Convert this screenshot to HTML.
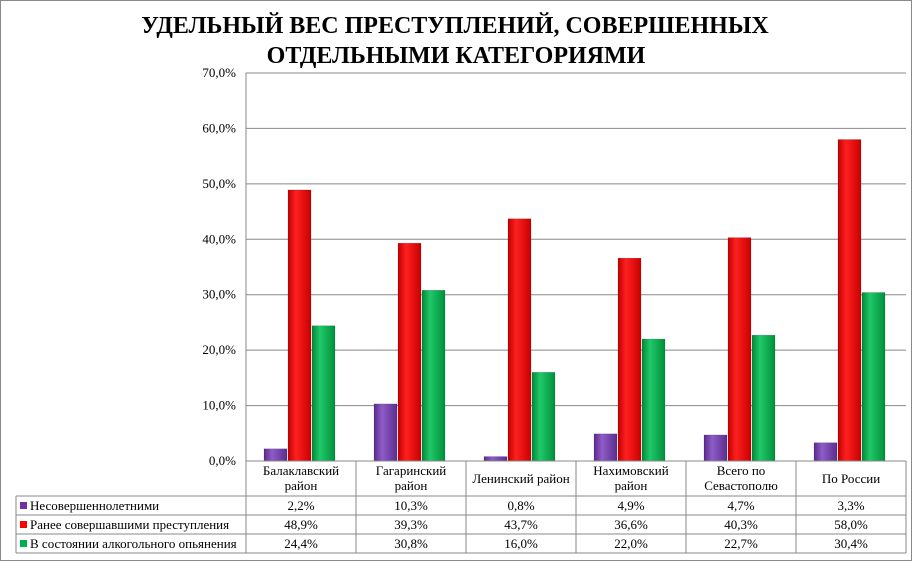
<!DOCTYPE html>
<html><head><meta charset="utf-8"><style>
body{margin:0;background:#fff}
svg{display:block;font-family:"Liberation Serif",serif}
text{font-family:"Liberation Serif",serif}
</style></head><body>
<svg id="c" width="913" height="562" viewBox="0 0 913 562">
<defs>
<linearGradient id="gp" x1="0" x2="1"><stop offset="0" stop-color="#5a2a8a"/><stop offset="0.35" stop-color="#8e5cc8"/><stop offset="1" stop-color="#5b2e8e"/></linearGradient>
<linearGradient id="gr" x1="0" x2="1"><stop offset="0" stop-color="#c00000"/><stop offset="0.35" stop-color="#ff2020"/><stop offset="1" stop-color="#c80000"/></linearGradient>
<linearGradient id="gg" x1="0" x2="1"><stop offset="0" stop-color="#008a3a"/><stop offset="0.35" stop-color="#20c868"/><stop offset="1" stop-color="#00903c"/></linearGradient>
</defs>
<rect x="0.5" y="0.5" width="911" height="560" fill="#fff" stroke="#888"/>
<text x="455" y="33" text-anchor="middle" font-size="24" font-weight="bold" font-family="Liberation Serif, serif">УДЕЛЬНЫЙ ВЕС ПРЕСТУПЛЕНИЙ, СОВЕРШЕННЫХ</text>
<text x="456" y="63" text-anchor="middle" font-size="24" font-weight="bold" font-family="Liberation Serif, serif">ОТДЕЛЬНЫМИ КАТЕГОРИЯМИ</text>
<g id="grid"></g><g id="bars"></g><g id="table"></g>
</svg>
<script>
const categories=[["Балаклавский","район"],["Гагаринский","район"],["Ленинский район"],["Нахимовский","район"],["Всего по","Севастополю"],["По России"]];
const seriesNames=["Несовершеннолетними","Ранее совершавшими преступления","В состоянии алкогольного  опьянения"];
const minors=[2.2,10.3,0.8,4.9,4.7,3.3];
const repeat=[48.9,39.3,43.7,36.6,40.3,58.0];
const alcohol=[24.4,30.8,16.0,22.0,22.7,30.4];
const ticks=[0,10,20,30,40,50,60,70];
const series=[minors,repeat,alcohol];
const fills=["url(#gp)","url(#gr)","url(#gg)"];
const solid=["#7030a0","#ff0000","#00b050"];
const NS="http://www.w3.org/2000/svg";
const L=246,R=906,T=73,B=461,maxV=70;
const cw=(R-L)/categories.length;
const y=v=>B-(v/maxV)*(B-T);
const xc=i=>L+i*cw;
function mk(tag,attrs,parent,txt){const e=document.createElementNS(NS,tag);for(const k in attrs)e.setAttribute(k,attrs[k]);if(tag==='text')e.setAttribute('font-family','Liberation Serif, serif');if(txt!==undefined)e.textContent=txt;parent.appendChild(e);return e;}
const fmt=v=>v.toFixed(1).replace('.',',')+'%';
const grid=document.getElementById('grid');
ticks.forEach(t=>{
  const l=mk('line',{x1:L,x2:R,y1:y(t),y2:y(t),stroke:'#888','stroke-width':1},grid);
  
  
  const tx=mk('text',{x:L-10,y:y(t)+4,'text-anchor':'end','font-size':13},grid,fmt(t));
  
  
});
const ax=mk('line',{x1:L,x2:L,y1:T,y2:B,stroke:'#888'},grid);


const bars=document.getElementById('bars');
const bw=24,off=18;
series.forEach((s,si)=>{
  s.forEach((v,i)=>{
    const x=xc(i)+off+si*bw;
    const r=mk('rect',{x:x,y:y(v),width:bw-1,height:B-y(v),fill:fills[si],stroke:'rgba(0,0,0,0.25)','stroke-width':0.5},bars);
    
    
  });
});
const tb=document.getElementById('table');
const rows=[461,496,515,534,553];
for(let i=0;i<=categories.length;i++){
  const ln=mk('line',{x1:xc(i),x2:xc(i),y1:B,y2:553,stroke:'#888'},tb);
  
  
}
const hl=mk('line',{x1:16,x2:16,y1:496,y2:553,stroke:'#888'},tb);


rows.forEach((ry,ri)=>{
  const ln=mk('line',{x1:ri===0?L:16,x2:R,y1:ry,y2:ry,stroke:'#888'},tb);
  
  
});
categories.forEach((c,i)=>{
  const cx=xc(i)+cw/2;
  c.forEach((line,li)=>{
    const yy=c.length===1?483:475+li*15;
    const t=mk('text',{x:cx,y:yy,'text-anchor':'middle','font-size':13},tb,line);
    
    
  });
});
series.forEach((s,si)=>{
  const ry=rows[si+1];
  const sw=mk('rect',{x:20,y:ry+6,width:7,height:7,fill:solid[si]},tb);
  
  
  const nm=mk('text',{x:30,y:ry+14,'font-size':13},tb,seriesNames[si]);
  
  
  s.forEach((v,i)=>{
    const t=mk('text',{x:xc(i)+cw/2,y:ry+14,'text-anchor':'middle','font-size':13},tb,fmt(v));
    
    
  });
});
</script>
</body></html>
